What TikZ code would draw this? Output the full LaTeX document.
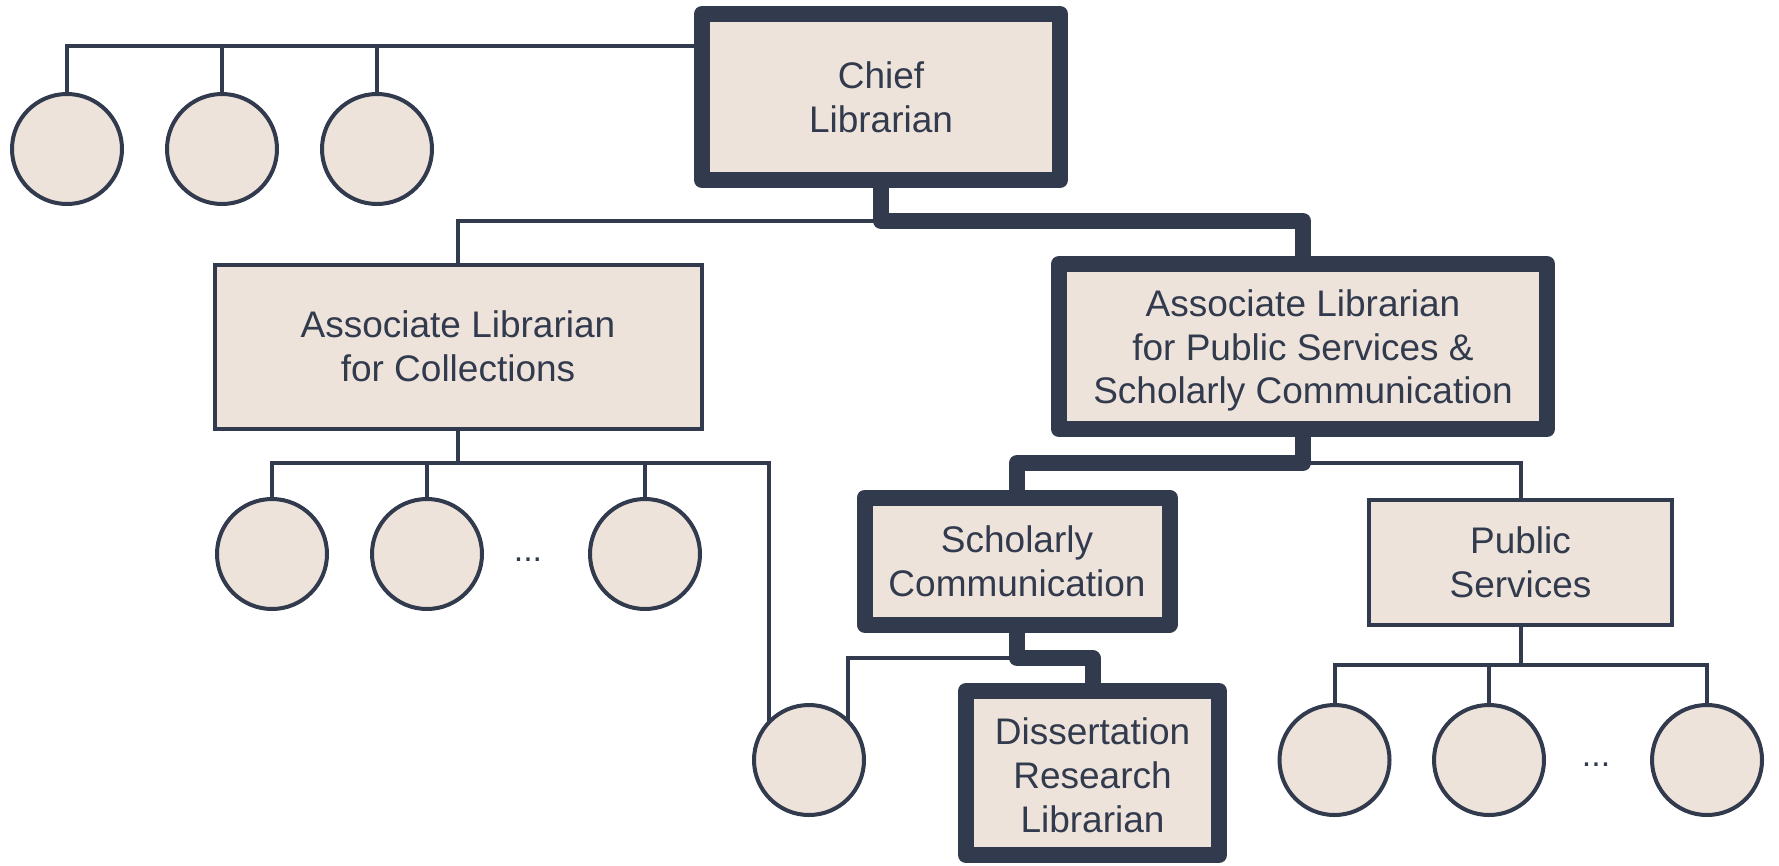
\documentclass[tikz,border=0pt]{standalone}
\usepackage{fontspec}
\setmainfont{Liberation Sans}
\definecolor{navy}{RGB}{50,58,77}
\definecolor{beige}{RGB}{237,227,218}
\begin{document}
\begin{tikzpicture}[x=1pt,y=-1pt,
  txt/.style={font=\fontsize{37}{43.7}\selectfont, text=navy, align=center},
  thinbox/.style={draw=navy, fill=beige, line width=4pt, rectangle, inner sep=0pt, outer sep=0pt, txt},
  thickbox/.style={draw=navy, fill=beige, line width=16pt, rectangle, line join=round, inner sep=0pt, outer sep=0pt, txt},
  person/.style={draw=navy, fill=beige, line width=4pt, circle, minimum size=110pt, inner sep=0pt, outer sep=0pt},
  thinline/.style={draw=navy, line width=4pt},
  thickline/.style={draw=navy, line width=16pt, line join=round},
  dots/.style={font=\fontsize{34}{40}\selectfont, text=navy}
]
\useasboundingbox (0,0) rectangle (1779,865);
% boxes
\node[thickbox, minimum width=358pt, minimum height=166pt] (chief) at (881,97) {Chief\\Librarian};
\node[thinbox, minimum width=487pt, minimum height=164pt] (coll) at (458,346.5) {Associate Librarian\\for Collections};
\node[thickbox, minimum width=488pt, minimum height=165pt] (ps) at (1303,346.5) {\rule{0pt}{35pt}Associate Librarian\\for Public Services \&\\Scholarly Communication};
\node[thickbox, minimum width=305pt, minimum height=127pt] (sc) at (1017,561) {Scholarly\\Communication};
\node[thinbox, minimum width=303pt, minimum height=125pt] (pub) at (1520.5,562.5) {Public\\Services};
\node[thickbox, minimum width=253pt, minimum height=164pt] (diss) at (1092.5,773) {\rule{0pt}{31pt}Dissertation\\Research\\Librarian};
% circles
\node[person] (t1) at (67,149) {};
\node[person] (t2) at (222,149) {};
\node[person] (t3) at (377,149) {};
\node[person] (c1) at (272,554) {};
\node[person] (c2) at (427,554) {};
\node[person] (c3) at (645,554) {};
\node[person] (lone) at (809,760) {};
\node[person] (p1) at (1334.5,760) {};
\node[person] (p2) at (1489,760) {};
\node[person] (p3) at (1707,760) {};
\node[dots] (d1) at (528,560) {...};
\node[dots] (d2) at (1596,765) {...};
% bus coordinates
\coordinate (ytop) at (0,46);
\coordinate (ym1) at (0,221);
\coordinate (ycoll) at (0,463);
\coordinate (yps) at (0,463);
\coordinate (ysc) at (0,658);
\coordinate (ypub) at (0,665);
% top
\draw[thinline] (t1.north) |- (ytop -| chief.west);
\draw[thinline] (t2.north) -- (t2.north |- ytop);
\draw[thinline] (t3.north) -- (t3.north |- ytop);
% chief to coll
\draw[thinline] (coll.north) |- (ym1 -| chief.south);
% coll bus
\draw[thinline] (coll.south) -- (coll.south |- ycoll);
\draw[thinline] (c1.north) |- (lone.137 |- ycoll) -- (lone.137);
\draw[thinline] (c2.north) -- (c2.north |- ycoll);
\draw[thinline] (c3.north) -- (c3.north |- ycoll);
% ps to pub
\draw[thinline] (ps.south |- yps) -| (pub.north);
% pub bus
\draw[thinline] (pub.south) -- (pub.south |- ypub);
\draw[thinline] (p1.north) |- (p3.north |- ypub) -- (p3.north);
\draw[thinline] (p2.north) -- (p2.north |- ypub);
% sc to lone
\draw[thinline] (sc.south |- ysc) -| (lone.45);
% thick paths
\draw[thickline] (chief.south) -- (chief.south |- ym1) -| (ps.north);
\draw[thickline] (ps.south) -- (ps.south |- yps) -| (sc.north);
\draw[thickline] (sc.south) -- (sc.south |- ysc) -| (diss.north);
\end{tikzpicture}
\end{document}
